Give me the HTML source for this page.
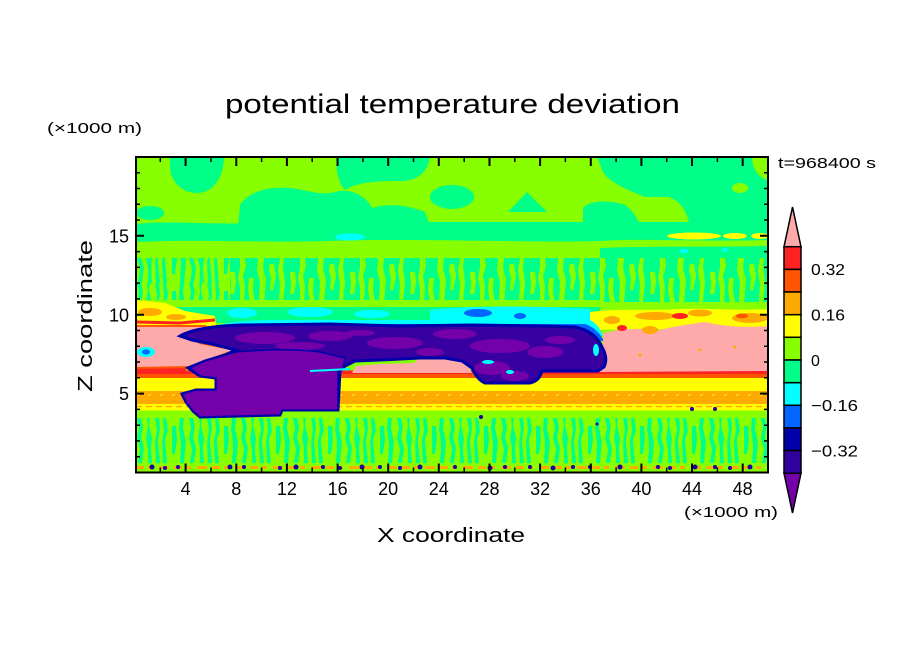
<!DOCTYPE html>
<html><head><meta charset="utf-8"><style>
html,body{margin:0;padding:0;background:#fff;}
svg{display:block;}
text{font-family:"Liberation Sans",sans-serif;fill:#000;}
</style></head><body>
<svg width="904" height="654" viewBox="0 0 904 654" xmlns="http://www.w3.org/2000/svg">
<rect width="904" height="654" fill="#fff"/>
<defs>
<clipPath id="pc"><rect x="136" y="157" width="632" height="315.5"/></clipPath>
<pattern id="n1" patternUnits="userSpaceOnUse" x="136" y="418" width="52" height="45">
<rect width="52" height="45" fill="#88ff00"/>
<path fill="#00ff88" d="M1,0h4l2,9l-2,10l3,11l-2,15h-4l2,-14l-3,-11l2,-10z M11,0h3l-1,7l3,13l-1,10l1,15h-4l0,-14l-2,-11l2,-12z M19,0h4l1,11l-2,12l2,22h-4l-1,-21l2,-12l-2,-12z M27,0h3l2,12l-3,10l2,23h-4l-1,-22l2,-10z M36,8h4l1,14l-2,14h-3l0,-14z M44,0h4l-1,10l3,14l-2,21h-4l1,-20l-2,-14z"/>
</pattern>
<pattern id="n2" patternUnits="userSpaceOnUse" x="136" y="258" width="60" height="44">
<rect width="60" height="44" fill="#00ff88"/>
<path fill="#88ff00" d="M2,0h6l-1,10l3,12l-2,22h-5l1,-20l-3,-12z M14,6h4l2,12l-3,14h-3l1,-12l-2,-8z M24,0h4l-1,9l2,15l-2,20h-4l1,-18l-2,-14z M34,14h5l1,10l-2,12h-4l1,-10z M44,0h5l1,8l-3,10l2,10l-1,16h-4l0,-14l-2,-10l2,-10z M53,20h5l-1,12l2,12h-5l-2,-12z"/>
</pattern>
</defs>

<g clip-path="url(#pc)">
<rect x="136" y="157" width="632" height="316" fill="#88ff00"/>
<path fill="#00ff88" d="M170,157 L224,157 C224,176 214,193 197,193 C181,193 171,181 170,168 Z"/>
<path fill="#00ff88" d="M336,157 L430,157 C428,172 417,182 398,181 C372,181 356,183 345,190 C338,182 336,170 336,157 Z"/>
<path fill="#00ff88" d="M597,157 L752,157 C752,168 758,178 768,180 L768,230 L690,228 C688,212 680,200 668,197 L645,197 C628,190 610,183 603,172 Z"/>
<ellipse cx="740" cy="188" rx="8" ry="5" fill="#88ff00"/>
<path fill="#00ff88" d="M240,205 C248,192 268,186 290,188 C308,190 320,196 335,192 C352,187 368,198 372,208 C388,203 408,205 425,212 L430,226 L238,228 Z"/>
<ellipse cx="452" cy="197" rx="22" ry="12" fill="#00ff88"/>
<path fill="#00ff88" d="M508,212 L527,192 L547,212 Z"/>
<path fill="#00ff88" d="M583,208 C590,200 610,200 625,205 C635,212 640,222 640,232 L583,232 Z"/>
<ellipse cx="150" cy="213" rx="14" ry="7" fill="#00ff88"/>
<ellipse cx="172" cy="228" rx="12" ry="5" fill="#00ff88"/>
<path fill="#00ff88" d="M136,224 C170,220 220,226 260,222 L768,222 L768,240 C700,242 640,238 600,241 C520,243 420,238 330,241 C260,243 200,239 136,242 Z"/>
<ellipse cx="694" cy="236" rx="27" ry="3.5" fill="#ffff00"/>
<ellipse cx="735" cy="236" rx="12" ry="3" fill="#ffff00"/>
<ellipse cx="760" cy="236" rx="9" ry="3" fill="#ffff00"/>
<ellipse cx="350" cy="237" rx="15" ry="3.5" fill="#00ffff"/>
<path fill="#00ff88" d="M600,248 C650,246 700,247 768,246 L768,262 L600,262 Z"/>
<ellipse cx="684" cy="251" rx="5" ry="2" fill="#00ffff"/>
<ellipse cx="725" cy="250" rx="3" ry="2" fill="#00ffff"/>
<rect x="230" y="258" width="538" height="44" fill="url(#n2)"/>
<rect x="136" y="258" width="94" height="42" fill="url(#n1)"/>
<rect x="175" y="300" width="425" height="7" fill="#88ff00"/>
<rect x="175" y="307" width="425" height="16" fill="#00ff88"/>
<ellipse cx="242" cy="313" rx="15" ry="5" fill="#00ffff"/>
<ellipse cx="310" cy="312" rx="23" ry="5" fill="#00ffff"/>
<ellipse cx="372" cy="314" rx="18" ry="4" fill="#00ffff"/>
<path fill="#00ffff" d="M430,310 C470,305 540,306 590,309 L592,323 L430,323 Z"/>
<ellipse cx="478" cy="313" rx="14" ry="4" fill="#0066ff"/>
<ellipse cx="520" cy="316" rx="6" ry="3" fill="#0066ff"/>
<path fill="#ffff00" d="M136,300 L165,303 L185,311 L215,316 L216,326 L136,326 Z"/>
<ellipse cx="150" cy="312" rx="12" ry="4" fill="#ffaa00"/>
<ellipse cx="176" cy="317" rx="10" ry="3" fill="#ffaa00"/>
<path fill="#ffff00" d="M590,312 C620,308 650,311 680,309 C710,308 740,311 768,309 L768,328 L590,330 Z"/>
<ellipse cx="655" cy="316" rx="20" ry="4" fill="#ffaa00"/>
<ellipse cx="700" cy="313" rx="12" ry="3.5" fill="#ffaa00"/>
<ellipse cx="750" cy="318" rx="18" ry="5" fill="#ffaa00"/>
<ellipse cx="680" cy="316" rx="8" ry="3" fill="#ff2222"/>
<ellipse cx="742" cy="316" rx="6" ry="2.5" fill="#ff5500"/>
<ellipse cx="612" cy="320" rx="8" ry="4" fill="#ffaa00"/>
<path fill="#00ffff" d="M195,333 C215,322 250,319 300,320 L590,320 C596,323 600,328 603,336 L200,338 Z"/>
<path fill="#0066ff" d="M188,335 C210,326 250,323 300,324 L585,324 C594,327 600,333 604,341 L195,341 Z"/>
<rect x="136" y="370.5" width="632" height="3.5" fill="#ff2222"/>
<rect x="136" y="374" width="632" height="4" fill="#ff5500"/>
<rect x="136" y="378" width="632" height="13" fill="#ffff00"/>
<rect x="136" y="391" width="632" height="13" fill="#ffaa00"/>
<rect x="136" y="404" width="632" height="6.5" fill="#ffff00"/>
<line x1="136" y1="406.5" x2="768" y2="406.5" stroke="#ffaa00" stroke-width="1.5" stroke-dasharray="6 4"/>
<line x1="136" y1="395" x2="768" y2="395" stroke="#ffff00" stroke-width="1" stroke-dasharray="3 9"/>
<rect x="136" y="366" width="50" height="5" fill="#ff2222"/>
<rect x="136" y="418" width="632" height="45" fill="url(#n1)"/>
<rect x="136" y="463" width="632" height="10" fill="#88ff00"/>
<line x1="136" y1="467.5" x2="768" y2="467.5" stroke="#ffaa00" stroke-width="3" stroke-dasharray="8 4 5 6 10 5"/>
<g fill="#1a00a0">
<circle cx="152" cy="467" r="2.5"/><circle cx="165" cy="468" r="2"/><circle cx="178" cy="467" r="2"/><circle cx="230" cy="467" r="2.5"/><circle cx="244" cy="467" r="2"/><circle cx="280" cy="468" r="2"/><circle cx="296" cy="467" r="2.5"/><circle cx="323" cy="467" r="2"/><circle cx="340" cy="468" r="2"/><circle cx="362" cy="467" r="2.5"/><circle cx="380" cy="467" r="2"/><circle cx="400" cy="468" r="2"/><circle cx="420" cy="467" r="2.5"/><circle cx="455" cy="467" r="2"/><circle cx="490" cy="468" r="2.5"/><circle cx="505" cy="467" r="2"/><circle cx="530" cy="467" r="2"/><circle cx="553" cy="468" r="2.5"/><circle cx="573" cy="467" r="2"/><circle cx="590" cy="467" r="2"/><circle cx="620" cy="467" r="2.5"/><circle cx="658" cy="467" r="2"/><circle cx="670" cy="468" r="2"/><circle cx="695" cy="467" r="2.5"/><circle cx="715" cy="467" r="2"/><circle cx="730" cy="468" r="2"/><circle cx="750" cy="467" r="2.5"/>
<circle cx="481" cy="417" r="2"/><circle cx="692" cy="409" r="2"/><circle cx="715" cy="409" r="2"/><circle cx="597" cy="424" r="1.5"/>
</g>
<path fill="#ffaaaa" d="M598,372 L598,360 L603,345 L603,333 C620,329 640,327 655,331 C670,327 690,324 705,322 C720,326 745,328 768,326 L768,371 Z"/>
<ellipse cx="650" cy="330" rx="8" ry="4" fill="#ffaa00"/>
<ellipse cx="622" cy="328" rx="5" ry="3" fill="#ff2222"/>
<circle cx="640" cy="355" r="1.5" fill="#ffaa00"/><circle cx="700" cy="350" r="1.5" fill="#ffaa00"/><circle cx="735" cy="347" r="1.5" fill="#ffaa00"/>
<path fill="#ffaaaa" stroke="#ff5500" stroke-width="2" d="M136,326 L205,326 L212,331 L188,336 L200,343 L236,350 L222,355 L205,361 L190,367 L136,368 Z"/>
<path fill="none" stroke="#ff2222" stroke-width="3" d="M136,322 L180,323 L215,320"/>
<ellipse cx="146" cy="352" rx="9" ry="5" fill="#00ffff"/>
<ellipse cx="146" cy="352" rx="4" ry="2.5" fill="#0066ff"/>
<path fill="#ffaaaa" d="M352,373 L356,366 L380,364 L414,363 L420,357 L455,356 L466,362 L472,373 Z"/>
<path fill="#3800a0" stroke="#0000aa" stroke-width="3" d="M180,336 C192,329 215,326 240,325 L330,324 L400,326 L470,325 L540,326 L575,327 C590,330 598,338 602,347 C606,354 607,361 604,367 L598,371 L542,371 C540,377 538,381 530,383 L485,383 C478,380 475,374 472,368 L462,361 L445,358 L420,358 L380,360 L355,361 L345,366 L340,371 L338,410 L282,410 L280,415 L200,417 L193,411 L186,402 L182,394 L196,390 L216,390 L216,378 L200,376 L188,368 L205,361 L225,355 L236,350 L212,344 L192,340 Z"/>
<g fill="#7400aa">
<ellipse cx="265" cy="338" rx="30" ry="6"/><ellipse cx="330" cy="336" rx="22" ry="5"/><ellipse cx="395" cy="343" rx="28" ry="6"/><ellipse cx="455" cy="334" rx="22" ry="5"/><ellipse cx="500" cy="346" rx="30" ry="7"/><ellipse cx="545" cy="352" rx="18" ry="6"/><ellipse cx="300" cy="346" rx="25" ry="4"/><ellipse cx="430" cy="352" rx="14" ry="4"/><ellipse cx="492" cy="368" rx="18" ry="7"/><ellipse cx="515" cy="376" rx="14" ry="5"/><ellipse cx="560" cy="340" rx="15" ry="4"/><ellipse cx="360" cy="333" rx="15" ry="3"/>
</g>
<path fill="#7400aa" stroke="#0000aa" stroke-width="1.5" d="M236,352 C260,350 290,348 320,352 L345,358 L343,368 L338,372 L338,410 L282,410 L280,415 L200,417 L193,411 L186,402 L182,394 L196,390 L216,390 L216,378 L200,376 L190,368 L205,361 L225,355 Z"/>
<path fill="none" stroke="#00ffff" stroke-width="2" d="M310,371 L350,369"/>
<ellipse cx="488" cy="362" rx="6" ry="2" fill="#00ffff"/>
<ellipse cx="510" cy="372" rx="4" ry="2" fill="#00ffff"/>
<ellipse cx="596" cy="350" rx="3" ry="6" fill="#00ffff"/>
</g>

<rect x="136" y="157" width="632" height="315.5" fill="none" stroke="#000" stroke-width="2"/>
<path stroke="#000" stroke-width="2" fill="none" d="M185.6,472.5v-9M236.3,472.5v-9M286.9,472.5v-9M337.6,472.5v-9M388.2,472.5v-9M438.8,472.5v-9M489.5,472.5v-9M540.1,472.5v-9M590.8,472.5v-9M641.4,472.5v-9M692,472.5v-9M742.7,472.5v-9
M185.6,157v9M236.3,157v9M286.9,157v9M337.6,157v9M388.2,157v9M438.8,157v9M489.5,157v9M540.1,157v9M590.8,157v9M641.4,157v9M692,157v9M742.7,157v9
M136,393.6h8M136,314.7h8M136,235.8h8M768,393.6h-8M768,314.7h-8M768,235.8h-8"/>
<path stroke="#000" stroke-width="1.5" fill="none" d="M160.3,472.5v-5M211,472.5v-5M261.6,472.5v-5M312.2,472.5v-5M362.9,472.5v-5M413.5,472.5v-5M464.2,472.5v-5M514.8,472.5v-5M565.4,472.5v-5M616.1,472.5v-5M666.7,472.5v-5M717.4,472.5v-5
M160.3,157v5M211,157v5M261.6,157v5M312.2,157v5M362.9,157v5M413.5,157v5M464.2,157v5M514.8,157v5M565.4,157v5M616.1,157v5M666.7,157v5M717.4,157v5
M136,456.7h4M136,440.9h4M136,425.2h4M136,409.4h4M136,377.8h4M136,362h4M136,346.3h4M136,330.5h4M136,298.9h4M136,283.1h4M136,267.4h4M136,251.6h4M136,220h4M136,204.2h4M136,188.5h4M136,172.7h4
M768,456.7h-4M768,440.9h-4M768,425.2h-4M768,409.4h-4M768,377.8h-4M768,362h-4M768,346.3h-4M768,330.5h-4M768,298.9h-4M768,283.1h-4M768,267.4h-4M768,251.6h-4M768,220h-4M768,204.2h-4M768,188.5h-4M768,172.7h-4"/>

<g font-size="18" text-anchor="middle">
<text x="185.6" y="495">4</text><text x="236.3" y="495">8</text><text x="286.9" y="495">12</text><text x="337.6" y="495">16</text><text x="388.2" y="495">20</text><text x="438.8" y="495">24</text><text x="489.5" y="495">28</text><text x="540.1" y="495">32</text><text x="590.8" y="495">36</text><text x="641.4" y="495">40</text><text x="692" y="495">44</text><text x="742.7" y="495">48</text>
</g>
<g font-size="18" text-anchor="end">
<text x="129" y="400.2">5</text><text x="129" y="321.3">10</text><text x="129" y="242.4">15</text>
</g>

<text x="225" y="113" font-size="27" textLength="455" lengthAdjust="spacingAndGlyphs">potential temperature deviation</text>
<text x="47" y="133" font-size="15" textLength="95" lengthAdjust="spacingAndGlyphs">(×1000 m)</text>
<text x="778" y="168" font-size="15" textLength="98" lengthAdjust="spacingAndGlyphs">t=968400 s</text>
<text x="377" y="542" font-size="20" textLength="148" lengthAdjust="spacingAndGlyphs">X coordinate</text>
<text x="684" y="517" font-size="15" textLength="94" lengthAdjust="spacingAndGlyphs">(×1000 m)</text>
<text transform="translate(92,316) rotate(-90)" x="0" y="0" font-size="20" text-anchor="middle" textLength="152" lengthAdjust="spacingAndGlyphs">Z coordinate</text>

<g stroke="#000" stroke-width="1.5">
<polygon points="784,246.7 792.5,207 801,246.7" fill="#ffaaaa"/>
<rect x="784" y="246.7" width="17" height="22.7" fill="#ff2222"/>
<rect x="784" y="269.4" width="17" height="22.6" fill="#ff5500"/>
<rect x="784" y="292" width="17" height="22.7" fill="#ffaa00"/>
<rect x="784" y="314.7" width="17" height="22.6" fill="#ffff00"/>
<rect x="784" y="337.3" width="17" height="22.7" fill="#88ff00"/>
<rect x="784" y="360" width="17" height="22.7" fill="#00ff88"/>
<rect x="784" y="382.7" width="17" height="22.6" fill="#00ffff"/>
<rect x="784" y="405.3" width="17" height="22.7" fill="#0066ff"/>
<rect x="784" y="428" width="17" height="22.6" fill="#0000aa"/>
<rect x="784" y="450.6" width="17" height="22.7" fill="#3300a0"/>
<polygon points="784,473.3 792.5,513 801,473.3" fill="#7400aa"/>
</g>
<g font-size="16">
<text x="811" y="275.2" textLength="34" lengthAdjust="spacingAndGlyphs">0.32</text>
<text x="811" y="320.5" textLength="34" lengthAdjust="spacingAndGlyphs">0.16</text>
<text x="811" y="365.8">0</text>
<text x="811" y="411.1" textLength="47" lengthAdjust="spacingAndGlyphs">−0.16</text>
<text x="811" y="456.4" textLength="47" lengthAdjust="spacingAndGlyphs">−0.32</text>
</g>
</svg>
</body></html>
